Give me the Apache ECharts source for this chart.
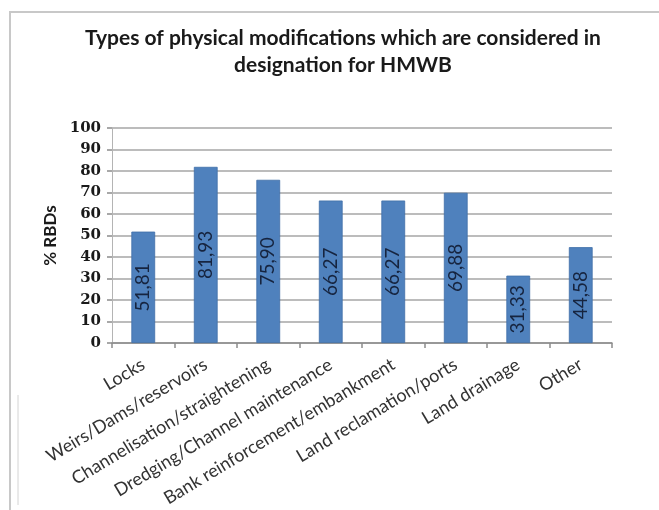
<!DOCTYPE html>
<html>
<head>
<meta charset="utf-8">
<script src="https://cdn.jsdelivr.net/npm/echarts@6/dist/echarts.min.js"></script>
<style>
  html, body { margin: 0; padding: 0; background: #fff; }
  #chart { width: 659px; height: 510px; }
</style>
</head>
<body>
<div id="chart"></div>
<script>
// Physical modification types and the share of RBDs considering each
const categories = [
  'Locks',
  'Weirs/Dams/reservoirs',
  'Channelisation/straightening',
  'Dredging/Channel maintenance',
  'Bank reinforcement/embankment',
  'Land reclamation/ports',
  'Land drainage',
  'Other'
];
const percentRBDs = [51.81, 81.93, 75.90, 66.27, 66.27, 69.88, 31.33, 44.58];
const yTicks = [0, 10, 20, 30, 40, 50, 60, 70, 80, 90, 100];

const chart = echarts.init(document.getElementById('chart'), null, { renderer: 'canvas' });

chart.setOption({
  backgroundColor: '#ffffff',
  animation: false,
  graphic: [{
    type: 'rect',
    shape: { x: 10, y: 12, width: 700, height: 540 },
    style: { fill: 'none', stroke: '#c8c8c8', lineWidth: 2 },
    silent: true,
    z: -1
  }, {
    type: 'line',
    shape: { x1: 18, y1: 395, x2: 18, y2: 505 },
    style: { stroke: '#d4d4d4', lineWidth: 1 },
    silent: true,
    z: -1
  }],
  title: {
    text: 'Types of physical modifications which are considered in\ndesignation for HMWB',
    left: 338,
    top: 20,
    textAlign: 'center',
    textStyle: {
      fontFamily: 'Lato',
      fontWeight: 'bold',
      fontSize: 21,
      lineHeight: 27,
      color: '#1a1a1a'
    }
  },
  grid: {
    left: 112, right: 47, top: 128, bottom: 167,
    containLabel: false,
    outerBoundsMode: 'none'
  },
  xAxis: {
    type: 'category',
    data: categories,
    axisLine: { show: true, lineStyle: { color: '#8c8c8c', width: 1.5 } },
    axisTick: { show: true, length: 5, lineStyle: { color: '#8c8c8c', width: 1.5 } },
    axisLabel: {
      interval: 0,
      rotate: 31,
      margin: 20,
      fontFamily: 'Lato',
      fontSize: 18,
      color: '#333333'
    }
  },
  yAxis: {
    type: 'value',
    min: yTicks[0],
    max: yTicks[yTicks.length - 1],
    interval: 10,
    name: '% RBDs',
    nameLocation: 'middle',
    nameRotate: 90,
    nameGap: 50,
    nameTextStyle: {
      fontFamily: 'Lato',
      fontWeight: 'bold',
      fontSize: 17,
      color: '#1a1a1a'
    },
    axisLine: { show: true, lineStyle: { color: '#b4b4b4', width: 1 } },
    axisTick: { show: true, length: 5, lineStyle: { color: '#8c8c8c', width: 1.5 } },
    axisLabel: {
      margin: 11,
      fontFamily: 'DejaVu Serif',
      fontWeight: 'bold',
      fontSize: 15,
      color: '#1a1a1a'
    },
    splitLine: { show: true, lineStyle: { color: '#a6a6a6', width: 1.5 } }
  },
  series: [{
    type: 'bar',
    data: percentRBDs,
    barWidth: '38%',
    itemStyle: { color: '#4f81bd', borderColor: '#3f6fa8', borderWidth: 0.8 },
    label: {
      show: true,
      position: 'inside',
      rotate: 90,
      fontFamily: 'Lato',
      fontSize: 19,
      color: '#16243f',
      formatter: p => p.value.toFixed(2).replace('.', ',')
    }
  }]
});
</script>
</body>
</html>
